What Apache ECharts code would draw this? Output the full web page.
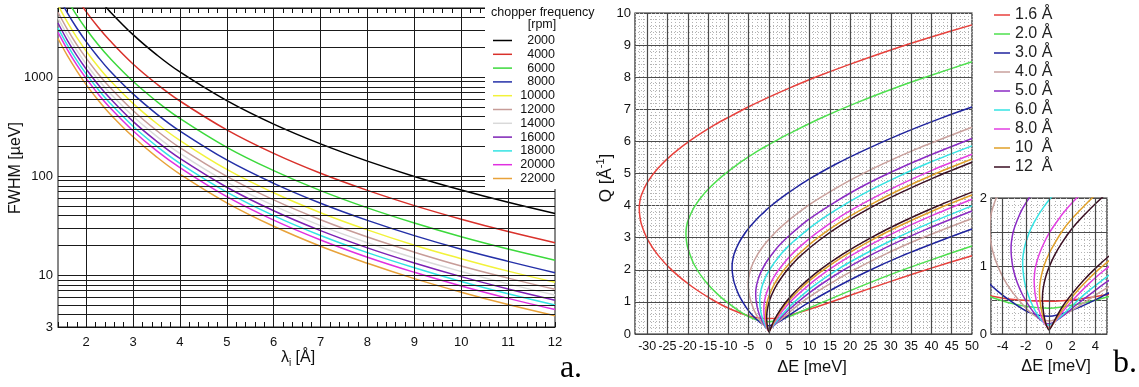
<!DOCTYPE html>
<html>
<head>
<meta charset="utf-8">
<script src="https://cdn.jsdelivr.net/npm/echarts@6/dist/echarts.min.js"></script>
<style>
  html, body { margin: 0; padding: 0; background: #fff; }
  #chart { width: 1139px; height: 387px; }
</style>
</head>
<body>
<div id="chart"></div>
<script>
// ---------- panel a: energy resolution vs incident wavelength ----------
const lambdaI = [1.4, 1.6, 1.8, 2, 2.25, 2.5, 3, 3.5, 4, 5, 6, 7, 8, 9, 10, 11, 12];
const chopperRpm = ['2000', '4000', '6000', '8000', '10000', '12000', '14000', '16000', '18000', '20000', '22000'];
const fwhm2000  = [26400, 17700, 12400, 9070, 6370, 4650, 2690, 1690, 1130, 580, 336, 212, 142, 99.5, 72.6, 54.5, 42];
const fwhm4000  = [13400, 8990, 6310, 4600, 3230, 2360, 1360, 859, 575, 294, 170, 107, 71.9, 50.5, 36.8, 27.6, 21.3];
const fwhm6000  = [8940, 5990, 4210, 3070, 2150, 1570, 909, 572, 383, 196, 114, 71.5, 47.9, 33.7, 24.5, 18.4, 14.2];
const fwhm8000  = [6680, 4470, 3140, 2290, 1610, 1170, 678, 427, 286, 146, 84.8, 53.4, 35.8, 25.1, 18.3, 13.8, 10.6];
const fwhm10000 = [5350, 3590, 2520, 1840, 1290, 940, 544, 343, 230, 117, 68, 42.8, 28.7, 20.1, 14.7, 11.0, 8.5];
const fwhm12000 = [4530, 3040, 2130, 1560, 1090, 796, 461, 290, 194, 99.5, 57.6, 36.3, 24.3, 17.1, 12.4, 9.35, 7.2];
const fwhm14000 = [3970, 2660, 1870, 1360, 956, 697, 403, 254, 170, 87.1, 50.4, 31.7, 21.3, 14.9, 10.9, 8.18, 6.3];
const fwhm16000 = [3530, 2360, 1660, 1210, 850, 619, 358, 226, 151, 77.4, 44.8, 28.2, 18.9, 13.3, 9.68, 7.27, 5.6];
const fwhm18000 = [3150, 2110, 1480, 1080, 759, 553, 320, 202, 135, 69.1, 40, 25.2, 16.9, 11.9, 8.64, 6.49, 5.0];
const fwhm20000 = [2830, 1900, 1330, 972, 683, 498, 288, 181, 122, 62.2, 36, 22.7, 15.2, 10.7, 7.78, 5.84, 4.5];
const fwhm22000 = [2460, 1650, 1160, 842, 592, 431, 250, 157, 105, 53.9, 31.2, 19.6, 13.2, 9.24, 6.74, 5.06, 3.9];
const fwhmByRpm = [fwhm2000, fwhm4000, fwhm6000, fwhm8000, fwhm10000, fwhm12000,
                   fwhm14000, fwhm16000, fwhm18000, fwhm20000, fwhm22000];
const rpmColors = ['#000000', '#d9312b', '#3cd93c', '#2430a8', '#f2f23a', '#c79c98',
                   '#d9d9d9', '#7d22b5', '#33e3e3', '#e030e0', '#e8a23a'];
const lambdaTickLabels = [2, 3, 4, 5, 6, 7, 8, 9, 10, 11, 12];
const fwhmTickLabels = [3, 10, 100, 1000];
const fwhmGridValues = [4, 5, 6, 7, 8, 9, 10, 20, 30, 40, 50, 60, 70, 80, 90,
                        100, 200, 300, 400, 500, 600, 700, 800, 900, 1000, 2000, 3000, 4000];
const lambdaGridValues = [2, 3, 4, 5, 6, 7, 8, 9, 10, 11];

// ---------- panel b: kinematic range Q(ΔE), lower (small angle) and upper (large angle) branches ----------
const waveNames = ['1.6 Å', '2.0 Å', '3.0 Å', '4.0 Å', '5.0 Å', '6.0 Å', '8.0 Å', '10  Å', '12  Å'];
const waveColors = ['#e8413c', '#4ee04e', '#1f239e', '#c9a09c', '#8b2bc4', '#35e3e3', '#e23fe2', '#e0a028', '#3a0e22'];

const low16 = [[-31.95,3.93],[-31.82,3.68],[-31.44,3.43],[-29.88,2.94],[-27.29,2.45],[-23.67,1.96],[-19.00,1.48],[-13.31,1.02],[-9.39,0.77],[-5.00,0.56],[-2.50,0.50],[0,0.48],[2.50,0.51],[5.00,0.58],[11.89,0.85],[19.85,1.20],[30.73,1.67],[40.18,2.06],[50,2.44]];
const up16  = [[-31.95,3.93],[-31.82,4.12],[-31.44,4.32],[-29.88,4.74],[-27.29,5.17],[-23.67,5.61],[-19.00,6.06],[-13.31,6.52],[-9.39,6.79],[-5.00,7.08],[0,7.38],[5.00,7.66],[11.89,8.02],[19.85,8.40],[30.73,8.88],[40.18,9.26],[50,9.63]];
const low20 = [[-20.45,3.14],[-20.32,2.89],[-19.93,2.65],[-18.38,2.15],[-15.79,1.66],[-12.16,1.18],[-7.50,0.73],[-4.78,0.53],[-2.42,0.42],[0,0.38],[2.53,0.44],[4.93,0.54],[12.70,0.96],[21.51,1.43],[31.35,1.92],[39.97,2.31],[50,2.74]];
const up20  = [[-20.45,3.14],[-20.32,3.34],[-19.93,3.54],[-18.38,3.96],[-15.79,4.40],[-12.16,4.85],[-7.50,5.31],[-4.78,5.54],[-2.42,5.73],[0,5.90],[2.53,6.08],[4.93,6.24],[12.70,6.72],[21.51,7.20],[31.35,7.68],[39.97,8.06],[50,8.48]];
const low30 = [[-9.09,2.09],[-9.01,1.90],[-8.57,1.60],[-7.41,1.21],[-5.59,0.82],[-4.43,0.63],[-3.10,0.46],[-1.61,0.31],[0,0.26],[1.87,0.34],[3.86,0.49],[5.46,0.63],[9.56,0.96],[16.29,1.44],[24.06,1.94],[32.87,2.44],[42.71,2.93],[50,3.27]];
const up30  = [[-9.09,2.09],[-9.01,2.25],[-8.57,2.50],[-7.41,2.84],[-5.59,3.20],[-4.43,3.38],[-3.10,3.57],[-1.61,3.75],[0,3.94],[1.87,4.13],[3.86,4.32],[5.46,4.46],[9.56,4.80],[16.29,5.28],[24.06,5.76],[32.87,6.25],[42.71,6.74],[50,7.07]];
const low40 = [[-5.11,1.57],[-5.07,1.42],[-4.86,1.22],[-4.37,0.98],[-3.62,0.73],[-2.61,0.50],[-1.34,0.28],[0,0.19],[1.60,0.31],[3.18,0.48],[4.92,0.67],[8.89,1.06],[13.54,1.45],[20.27,1.95],[28.04,2.45],[36.85,2.95],[50,3.60]];
const up40  = [[-5.11,1.57],[-5.07,1.69],[-4.86,1.85],[-4.37,2.07],[-3.62,2.29],[-2.61,2.52],[-1.34,2.75],[0,2.95],[1.60,3.17],[3.18,3.36],[4.92,3.55],[8.89,3.94],[13.54,4.32],[20.27,4.81],[28.04,5.30],[36.85,5.79],[50,6.44]];
const low50 = [[-3.27,1.26],[-3.24,1.14],[-3.09,0.96],[-2.75,0.76],[-2.26,0.57],[-1.59,0.38],[-0.76,0.21],[0,0.15],[1.08,0.25],[2.37,0.43],[3.82,0.62],[5.02,0.77],[9.68,1.26],[15.38,1.76],[22.11,2.26],[29.88,2.76],[38.69,3.26],[50,3.83]];
const up50  = [[-3.27,1.26],[-3.24,1.35],[-3.09,1.50],[-2.75,1.67],[-2.26,1.85],[-1.59,2.03],[-0.76,2.22],[0,2.36],[1.08,2.54],[2.37,2.74],[3.82,2.93],[5.02,3.07],[9.68,3.56],[15.38,4.04],[22.11,4.54],[29.88,5.03],[38.69,5.52],[50,6.09]];
const low60 = [[-2.27,1.05],[-2.25,0.95],[-2.14,0.80],[-1.94,0.65],[-1.53,0.46],[-0.95,0.27],[-0.40,0.16],[0,0.13],[0.71,0.21],[1.79,0.38],[3.03,0.58],[4.44,0.77],[6.02,0.97],[10.68,1.47],[16.38,1.97],[23.11,2.46],[30.88,2.96],[39.69,3.46],[50,3.99]];
const up60  = [[-2.27,1.05],[-2.25,1.13],[-2.14,1.25],[-1.94,1.38],[-1.53,1.56],[-0.95,1.74],[-0.40,1.88],[0,1.97],[0.71,2.11],[1.79,2.30],[3.03,2.50],[4.44,2.69],[6.02,2.88],[10.68,3.37],[16.38,3.86],[23.11,4.36],[30.88,4.85],[39.69,5.35],[50,5.86]];
const low80 = [[-1.28,0.79],[-1.26,0.71],[-1.20,0.59],[-1.02,0.44],[-0.76,0.30],[-0.40,0.16],[0,0.10],[0.59,0.20],[1.23,0.34],[2.22,0.53],[3.38,0.73],[4.71,0.93],[7.01,1.22],[11.67,1.72],[17.37,2.22],[24.10,2.72],[31.88,3.22],[40.68,3.72],[50,4.20]];
const up80  = [[-1.28,0.79],[-1.26,0.85],[-1.20,0.95],[-1.02,1.08],[-0.76,1.21],[-0.40,1.35],[0,1.48],[0.59,1.63],[1.23,1.78],[2.22,1.97],[3.38,2.16],[4.71,2.36],[7.01,2.65],[11.67,3.14],[17.37,3.64],[24.10,4.13],[31.88,4.63],[40.68,5.13],[50,5.60]];
const low100 = [[-0.82,0.63],[-0.81,0.57],[-0.77,0.48],[-0.63,0.33],[-0.40,0.19],[0,0.08],[0.51,0.19],[1.25,0.38],[2.17,0.58],[3.24,0.78],[4.49,0.98],[7.47,1.38],[12.13,1.88],[17.83,2.38],[24.57,2.88],[32.34,3.38],[41.14,3.88],[50,4.33]];
const up100  = [[-0.82,0.63],[-0.81,0.68],[-0.77,0.75],[-0.63,0.88],[-0.40,1.02],[0,1.18],[0.51,1.34],[1.25,1.54],[2.17,1.73],[3.24,1.92],[4.49,2.12],[7.47,2.51],[12.13,3.01],[17.83,3.51],[24.57,4.00],[32.34,4.50],[41.14,5.00],[50,5.45]];
const low120 = [[-0.57,0.52],[-0.56,0.47],[-0.54,0.41],[-0.44,0.28],[-0.27,0.15],[0,0.06],[0.45,0.19],[1.11,0.39],[1.94,0.58],[2.93,0.78],[4.09,0.98],[5.42,1.18],[7.72,1.48],[12.38,1.98],[18.08,2.48],[24.82,2.98],[32.59,3.48],[41.39,3.98],[50,4.42]];
const up120  = [[-0.57,0.52],[-0.56,0.56],[-0.54,0.62],[-0.44,0.73],[-0.27,0.85],[0,0.98],[0.45,1.15],[1.11,1.34],[1.94,1.54],[2.93,1.73],[4.09,1.93],[5.42,2.13],[7.72,2.43],[12.38,2.92],[18.08,3.42],[24.82,3.92],[32.59,4.41],[41.39,4.91],[50,5.35]];
const lowBranches = [low16, low20, low30, low40, low50, low60, low80, low100, low120];
const upBranches  = [up16, up20, up30, up40, up50, up60, up80, up100, up120];

const energyMajorLines = [-30, -25, -20, -15, -10, -5, 0, 5, 10, 15, 20, 25, 30, 35, 40, 45];
const insetMajorLines = [-4, -2, 0, 2, 4];

// ---------- shared styles ----------
const SANS = '"Liberation Sans", Arial, Helvetica, sans-serif';
const SERIF = '"Liberation Serif", "Times New Roman", serif';
const MAJOR = '#4a4a4a';
const MINOR = '#b4b4b4';
const DOTS = [1, 2];

const isInt = v => Math.abs(v - Math.round(v)) < 1e-6;

function gridLines(xi, yi, values, axisKey, color, width) {
  return {
    type: 'line', xAxisIndex: xi, yAxisIndex: yi, data: [], z: 1, silent: true,
    markLine: {
      silent: true, symbol: ['none', 'none'], animation: false,
      label: { show: false },
      lineStyle: { color: color, width: width, type: 'solid' },
      emphasis: { disabled: true },
      data: values.map(v => ({ [axisKey]: v }))
    }
  };
}

const series = [];
series.push(gridLines(0, 0, lambdaGridValues, 'xAxis', '#1a1a1a', 1));
series.push(gridLines(0, 0, fwhmGridValues, 'yAxis', '#1a1a1a', 1));
series.push(gridLines(2, 1, energyMajorLines, 'xAxis', MAJOR, 1.2));
series.push(gridLines(3, 2, insetMajorLines, 'xAxis', MAJOR, 1.2));

chopperRpm.forEach((name, i) => {
  series.push({
    name: name, type: 'line', xAxisIndex: 0, yAxisIndex: 0, z: 3,
    data: lambdaI.map((x, j) => [x, fwhmByRpm[i][j]]),
    showSymbol: false, smooth: 0.4, clip: true,
    lineStyle: { color: rpmColors[i], width: 1.5 },
    itemStyle: { color: rpmColors[i] },
    emphasis: { disabled: true }
  });
});

waveNames.forEach((name, i) => {
  const path = lowBranches[i].slice().reverse().concat(upBranches[i].slice(1));
  [[2, 1], [3, 2]].forEach(([xi, yi]) => {
    series.push({
      name: name, type: 'line', xAxisIndex: xi, yAxisIndex: yi, z: 3,
      data: path, showSymbol: false, smooth: 0.3, clip: true,
      lineStyle: { color: waveColors[i], width: 1.5 },
      itemStyle: { color: waveColors[i] },
      emphasis: { disabled: true }
    });
  });
});

const lambdaAxisBase = {
  gridIndex: 0, type: 'value', min: 1.4, max: 12, interval: 0.2,
  axisLine: { show: true, onZero: false, lineStyle: { color: '#111', width: 1 } },
  axisTick: { show: true, inside: true, length: 5, lineStyle: { color: '#111', width: 1 } },
  splitLine: { show: false }
};

const option = {
  animation: false,
  textStyle: { fontFamily: SANS },
  grid: [
    { left: 58, top: 8, width: 497, height: 319, show: true, borderColor: '#111', borderWidth: 1 },
    { left: 635, top: 13, width: 337, height: 321, show: true, borderColor: '#222', borderWidth: 1.2 },
    { left: 991, top: 198, width: 116, height: 136, show: true, borderColor: '#222', borderWidth: 1.2 }
  ],
  xAxis: [
    Object.assign({}, lambdaAxisBase, {
      position: 'bottom',
      axisLabel: {
        fontSize: 13, color: '#111', margin: 9,
        formatter: v => (isInt(v) && lambdaTickLabels.includes(Math.round(v))) ? String(Math.round(v)) : ''
      }
    }),
    Object.assign({}, lambdaAxisBase, { position: 'top', axisLabel: { show: false } }),
    {
      gridIndex: 1, type: 'value', min: -33, max: 50, interval: 1,
      axisLine: { show: false, onZero: false }, axisTick: { show: false },
      axisLabel: {
        fontSize: 12.5, color: '#111', margin: 6,
        formatter: v => (isInt(v) && Math.round(v) % 5 === 0) ? String(Math.round(v)) : ''
      },
      splitLine: { show: true, lineStyle: { type: DOTS, color: MINOR, width: 1 } }
    },
    {
      gridIndex: 2, type: 'value', min: -5, max: 5, interval: 1,
      axisLine: { show: false, onZero: false }, axisTick: { show: false },
      axisLabel: {
        fontSize: 13, color: '#111', margin: 6,
        formatter: v => (isInt(v) && Math.round(v) % 2 === 0) ? String(Math.round(v)) : ''
      },
      splitLine: { show: true, lineStyle: { type: DOTS, color: MINOR, width: 1 } },
      minorTick: { show: false, splitNumber: 2 },
      minorSplitLine: { show: true, lineStyle: { type: DOTS, color: MINOR, width: 1 } }
    }
  ],
  yAxis: [
    {
      gridIndex: 0, type: 'log', logBase: 10, min: 3, max: 5000,
      axisLine: { show: false, onZero: false }, axisTick: { show: false },
      axisLabel: {
        fontSize: 13, color: '#111', margin: 5,
        formatter: v => { const r = Math.round(v); return fwhmTickLabels.includes(r) && Math.abs(v - r) < 1e-3 ? String(r) : ''; }
      },
      splitLine: { show: false }
    },
    {
      gridIndex: 1, type: 'value', min: 0, max: 10, interval: 1,
      axisLine: { show: false, onZero: false }, axisTick: { show: false },
      axisLabel: { fontSize: 13, color: '#111', margin: 4 },
      splitLine: { show: true, lineStyle: { color: MAJOR, width: 1.2 } },
      minorTick: { show: false, splitNumber: 5 },
      minorSplitLine: { show: true, lineStyle: { type: DOTS, color: MINOR, width: 1 } }
    },
    {
      gridIndex: 2, type: 'value', min: 0, max: 2, interval: 0.5,
      axisLine: { show: false, onZero: false }, axisTick: { show: false },
      axisLabel: {
        fontSize: 13, color: '#111', margin: 4,
        formatter: v => isInt(v) ? String(Math.round(v)) : ''
      },
      splitLine: { show: true, lineStyle: { color: MAJOR, width: 1.2 } },
      minorTick: { show: false, splitNumber: 5 },
      minorSplitLine: { show: true, lineStyle: { type: DOTS, color: MINOR, width: 1 } }
    }
  ],
  legend: [
    {
      data: chopperRpm, orient: 'vertical', left: 493, top: 34, z: 20, padding: 0,
      icon: 'rect', itemWidth: 19, itemHeight: 1.5, itemGap: 0.8, selectedMode: false,
      formatter: '{n|{name}}',
      textStyle: {
        color: '#111',
        rich: { n: { width: 38, align: 'right', fontSize: 12.5, lineHeight: 13, fontFamily: SANS, color: '#111' } }
      }
    },
    {
      data: waveNames, orient: 'vertical', left: 994, top: 5.5, z: 20, padding: 0,
      icon: 'rect', itemWidth: 16, itemHeight: 1.5, itemGap: 0, selectedMode: false,
      textStyle: { color: '#222', fontSize: 16, lineHeight: 19, fontFamily: SANS }
    }
  ],
  graphic: {
    elements: [
      { type: 'rect', z: 10, shape: { x: 485, y: 0, width: 92, height: 189 }, style: { fill: '#fff' } },
      { type: 'text', z: 20, x: 491, y: 13,
        style: { text: 'chopper frequency', font: '12.5px ' + SANS, fill: '#111', align: 'left', verticalAlign: 'middle' } },
      { type: 'text', z: 20, x: 542, y: 25,
        style: { text: '[rpm]', font: '12.5px ' + SANS, fill: '#111', align: 'center', verticalAlign: 'middle' } },
      { type: 'text', z: 20, x: 16, y: 168, rotation: Math.PI / 2,
        style: { text: 'FWHM [µeV]', font: '16px ' + SANS, fill: '#111', align: 'center', verticalAlign: 'middle' } },
      { type: 'text', z: 20, x: 298, y: 358,
        style: {
          text: '{l|λ}{s|i}{l| [Å]}', align: 'center', verticalAlign: 'middle', fill: '#111',
          rich: {
            l: { fontSize: 16, fontFamily: SANS, lineHeight: 20, fill: '#111' },
            s: { fontSize: 10, fontFamily: SANS, lineHeight: 10, verticalAlign: 'bottom', fill: '#111' }
          }
        } },
      { type: 'text', z: 20, x: 606, y: 178, rotation: Math.PI / 2,
        style: {
          text: '{q|Q [Å}{s|-1}{q|]}', align: 'center', verticalAlign: 'middle', fill: '#111',
          rich: {
            q: { fontSize: 17, fontFamily: SANS, lineHeight: 22, fill: '#111' },
            s: { fontSize: 11, fontFamily: SANS, lineHeight: 12, verticalAlign: 'top', fill: '#111' }
          }
        } },
      { type: 'text', z: 20, x: 812, y: 367,
        style: { text: 'ΔE [meV]', font: '16.5px ' + SANS, fill: '#111', align: 'center', verticalAlign: 'middle' } },
      { type: 'text', z: 20, x: 1056, y: 366,
        style: { text: 'ΔE [meV]', font: '16.5px ' + SANS, fill: '#111', align: 'center', verticalAlign: 'middle' } },
      { type: 'text', z: 20, x: 571, y: 369,
        style: { text: 'a.', font: '32px ' + SERIF, fill: '#000', align: 'center', verticalAlign: 'middle' } },
      { type: 'text', z: 20, x: 1125, y: 364,
        style: { text: 'b.', font: '32px ' + SERIF, fill: '#000', align: 'center', verticalAlign: 'middle' } }
    ]
  },
  series: series
};

const chart = echarts.init(document.getElementById('chart'), null, { renderer: 'canvas' });
chart.setOption(option);
</script>
</body>
</html>
